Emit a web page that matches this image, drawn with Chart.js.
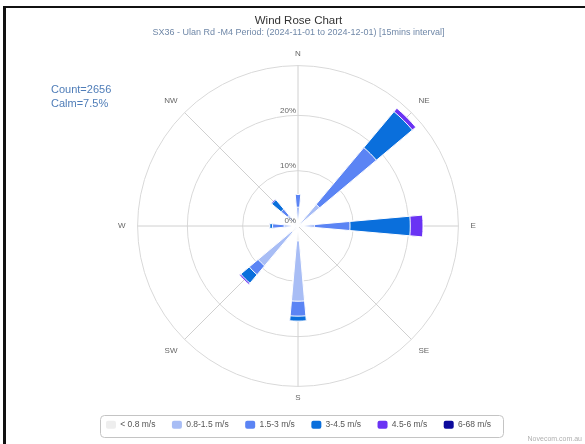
<!DOCTYPE html>
<html>
<head>
<meta charset="utf-8">
<title>Wind Rose Chart</title>
<script src="https://cdn.jsdelivr.net/npm/chart.js@4.4.1/dist/chart.umd.min.js"></script>
<style>
  html, body { margin: 0; padding: 0; background: #fff; }
</style>
</head>
<body>
<canvas id="windrose" width="585" height="444"></canvas>
<script>
// Wind rose - % of records per direction, stacked by wind speed class

var directions = ['N', 'NE', 'E', 'SE', 'S', 'SW', 'W', 'NW'];
var speedClasses = ['< 0.8 m/s', '0.8-1.5 m/s', '1.5-3 m/s', '3-4.5 m/s', '4.5-6 m/s', '6-68 m/s'];
var speedColors = ['#eeeeee', '#a8bdf5', '#5b84f4', '#0a6fdc', '#6a33f4', '#0c0a9c'];

// one array per speed class, values in % for each direction
var below08   = [1.2, 0.7, 0.6, 0, 2.7, 1.5, 1.2, 1.0];
var from08to15 = [2.2, 4.4, 2.4, 0, 10.9, 7.9, 1.3, 1.5];
var from15to3 = [2.3, 13.4, 6.4, 0, 2.7, 2.1, 2.1, 1.5];
var from3to45 = [0, 8.5, 10.9, 0, 0.9, 2.0, 0.5, 2.2];
var from45to6 = [0, 0.8, 2.3, 0, 0, 0.3, 0, 0.2];
var from6to68 = [0, 0, 0, 0, 0, 0, 0, 0];

var radialTicks = [0, 10, 20];
var radialMax = 29;
var recordCount = 2656;
var calmPct = 7.5;

var bins = [below08, from08to15, from15to3, from3to45, from45to6, from6to68];
var petalAngle = 10;                       // width of each petal in degrees
var sectorAngle = 360 / directions.length;

// polarArea draws every dataset from the centre, so each class gets the running total.
// Dataset 0 is painted last (on top), which gives the stacked look.
// A first empty slice turns the petals so that they sit centred on N, NE, ...
var sliceAngles = [360 - petalAngle / 2];
directions.forEach(function(d, i) {
    if (i > 0) sliceAngles.push(sectorAngle - petalAngle);
    sliceAngles.push(petalAngle);
});

var running = directions.map(function() { return 0; });
var datasets = bins.map(function(bin, k) {
    running = running.map(function(v, i) { return v + bin[i]; });
    var data = [0];
    running.forEach(function(v, i) {
        if (i > 0) data.push(0);
        data.push(+v.toFixed(2));
    });
    return {
        label: speedClasses[k],
        data: data,
        backgroundColor: speedColors[k],
        borderColor: '#ffffff',
        borderWidth: function(c) { return c.raw > 0 ? 1 : 0; },
        angle: function(c) { return sliceAngles[c.dataIndex]; }
    };
});

var FONT = '"Liberation Sans", Arial, Helvetica, sans-serif';
Chart.defaults.font.family = FONT;

// tick labels, count/calm text, legend frame, page border
var extras = {
    id: 'extras',
    afterDatasetsDraw: function(chart) {
        var r = chart.scales.r;
        var ctx = chart.ctx;
        ctx.save();
        ctx.font = '8px ' + FONT;
        ctx.fillStyle = '#666666';
        ctx.textAlign = 'right';
        ctx.textBaseline = 'bottom';
        radialTicks.forEach(function(v) {
            ctx.fillText(v + '%', r.xCenter - 2, r.yCenter - r.getDistanceFromCenterForValue(v) - 1);
        });
        ctx.restore();
    },
    afterDraw: function(chart) {
        var ctx = chart.ctx;
        ctx.save();

        ctx.font = '11px ' + FONT;
        ctx.fillStyle = '#4f7db8';
        ctx.textAlign = 'left';
        ctx.textBaseline = 'middle';
        ctx.fillText('Count=' + recordCount, 51, 90);
        ctx.fillText('Calm=' + calmPct + '%', 51, 104);

        var hb = chart.legend.legendHitBoxes;
        if (hb && hb.length) {
            var first = hb[0], last = hb[hb.length - 1];
            var mid = first.top + first.height / 2;
            var x0 = Math.round(first.left - 6), x1 = Math.round(last.left + last.width + 12);
            ctx.beginPath();
            ctx.roundRect(x0 + 0.5, Math.round(mid - 10) + 0.5, x1 - x0, 22, 4);
            ctx.strokeStyle = '#c4c4c4';
            ctx.lineWidth = 1;
            ctx.stroke();
        }

        ctx.font = '7px ' + FONT;
        ctx.fillStyle = '#b0b0b0';
        ctx.textAlign = 'right';
        ctx.fillText('Novecom.com.au', 582, 439);

        ctx.fillStyle = '#111111';
        ctx.fillRect(3, 6, 582, 2);
        ctx.fillRect(3, 6, 3, 438);
        ctx.restore();
    }
};

var ctx = document.getElementById('windrose');

var windRose = new Chart(ctx, {
    type: 'polarArea',
    data: {
        labels: directions,
        datasets: datasets
    },
    options: {
        responsive: false,
        animation: false,
        events: [],
        layout: { padding: { top: 0, left: 12, right: 0, bottom: 5 } },
        scales: {
            r: {
                min: 0,
                max: radialMax,
                startAngle: 0,
                afterBuildTicks: function(scale) {
                    scale.ticks = radialTicks.concat([radialMax]).map(function(v) { return { value: v }; });
                },
                ticks: { display: false },
                grid: { circular: true, color: '#d9d9d9', lineWidth: 1 },
                angleLines: { display: true, color: '#d0d0d0', lineWidth: 1 },
                pointLabels: {
                    display: true,
                    centerPointLabels: false,
                    color: '#666666',
                    font: { size: 8 },
                    padding: function(c) {
                        if (c.index % 4 === 0) return 7;
                        return c.index % 2 === 0 ? 12 : 10;
                    }
                }
            }
        },
        plugins: {
            title: {
                display: true,
                text: 'Wind Rose Chart',
                color: '#333333',
                font: { size: 11.5, weight: 'normal' },
                padding: { top: 13.6, bottom: 0 }
            },
            subtitle: {
                display: true,
                text: 'SX36 - Ulan Rd -M4 Period: (2024-11-01 to 2024-12-01) [15mins interval]',
                color: '#7088a8',
                font: { size: 9 },
                padding: { top: 0, bottom: 11.8 }
            },
            legend: {
                display: true,
                position: 'bottom',
                labels: {
                    font: { size: 8.5 },
                    color: '#555555',
                    boxWidth: 10,
                    boxHeight: 8,
                    padding: 16.5,
                    useBorderRadius: true,
                    borderRadius: 2,
                    generateLabels: function(chart) {
                        return chart.data.datasets.map(function(ds, i) {
                            return {
                                text: ds.label,
                                fillStyle: speedColors[i],
                                strokeStyle: speedColors[i],
                                lineWidth: 0,
                                borderRadius: 2,
                                fontColor: '#555555',
                                hidden: false,
                                datasetIndex: i
                            };
                        });
                    }
                }
            },
            tooltip: { enabled: false }
        }
    },
    plugins: [extras]
});
</script>
</body>
</html>
